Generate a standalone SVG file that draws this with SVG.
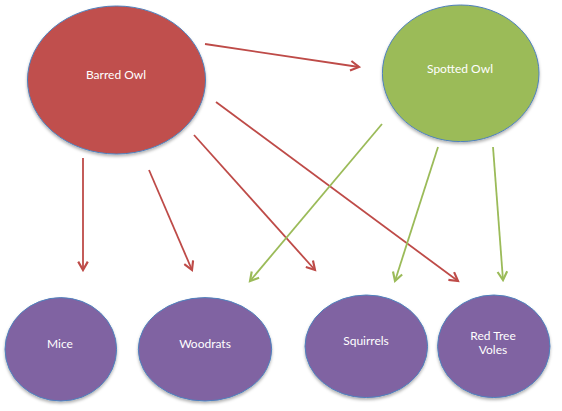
<svg xmlns="http://www.w3.org/2000/svg" width="562" height="411" viewBox="0 0 562 411">
<style>
.node ellipse{stroke:#4f81bd;stroke-width:1}
.red{fill:#c0504d}
.green{fill:#9bbb59}
.purple{fill:#8064a2}
text{font-family:Lato,"Open Sans","Liberation Sans",sans-serif;font-size:12px;fill:#ffffff;text-anchor:middle}
.edge{fill:none;stroke-width:1.8}
.er{stroke:#be4b48;marker-end:url(#ar)}
.eg{stroke:#9bbb59;marker-end:url(#ag)}
</style>
<defs>
<filter id="sh" x="-10%" y="-10%" width="120%" height="125%">
<feDropShadow dx="0" dy="2" stdDeviation="1.5" flood-color="#000" flood-opacity="0.3"/>
</filter>
<marker id="ar" markerUnits="userSpaceOnUse" markerWidth="12" markerHeight="12" refX="8" refY="5" orient="auto" viewBox="0 0 10 10">
<path d="M1,1 L8,5 L1,9" fill="none" stroke="#be4b48" stroke-width="1.8"/>
</marker>
<marker id="ag" markerUnits="userSpaceOnUse" markerWidth="12" markerHeight="12" refX="8" refY="5" orient="auto" viewBox="0 0 10 10">
<path d="M1,1 L8,5 L1,9" fill="none" stroke="#9bbb59" stroke-width="1.8"/>
</marker>
</defs>
<g id="connectors">
<line class="edge er" x1="205" y1="44" x2="359" y2="67"/>
<line class="edge er" x1="83" y1="158" x2="83" y2="270"/>
<line class="edge er" x1="149" y1="170" x2="192" y2="270"/>
<line class="edge er" x1="194" y1="135" x2="315" y2="270"/>
<line class="edge er" x1="216" y1="102" x2="458" y2="281"/>
<line class="edge eg" x1="382" y1="124" x2="250" y2="281"/>
<line class="edge eg" x1="438" y1="147" x2="395" y2="281"/>
<line class="edge eg" x1="493" y1="147" x2="503" y2="280"/>
</g>
<g id="barred-owl" class="node">
<ellipse class="red" cx="116.5" cy="80" rx="89" ry="74" filter="url(#sh)"/>
<text x="116" y="79">Barred Owl</text>
</g>
<g id="spotted-owl" class="node">
<ellipse class="green" cx="460.7" cy="73.3" rx="78.3" ry="68.3" filter="url(#sh)"/>
<text x="460" y="72.5">Spotted Owl</text>
</g>
<g id="mice" class="node">
<ellipse class="purple" cx="60.8" cy="349.3" rx="55.8" ry="51.7" filter="url(#sh)"/>
<text x="60" y="348">Mice</text>
</g>
<g id="woodrats" class="node">
<ellipse class="purple" cx="205" cy="349.3" rx="66.7" ry="51.7" filter="url(#sh)"/>
<text x="205" y="348">Woodrats</text>
</g>
<g id="squirrels" class="node">
<ellipse class="purple" cx="366.3" cy="346.3" rx="61.3" ry="51.3" filter="url(#sh)"/>
<text x="366" y="345">Squirrels</text>
</g>
<g id="red-tree-voles" class="node">
<ellipse class="purple" cx="493.8" cy="346.3" rx="56.2" ry="51.3" filter="url(#sh)"/>
<text x="493" y="339.5">Red Tree</text>
<text x="493" y="354">Voles</text>
</g>
</svg>
